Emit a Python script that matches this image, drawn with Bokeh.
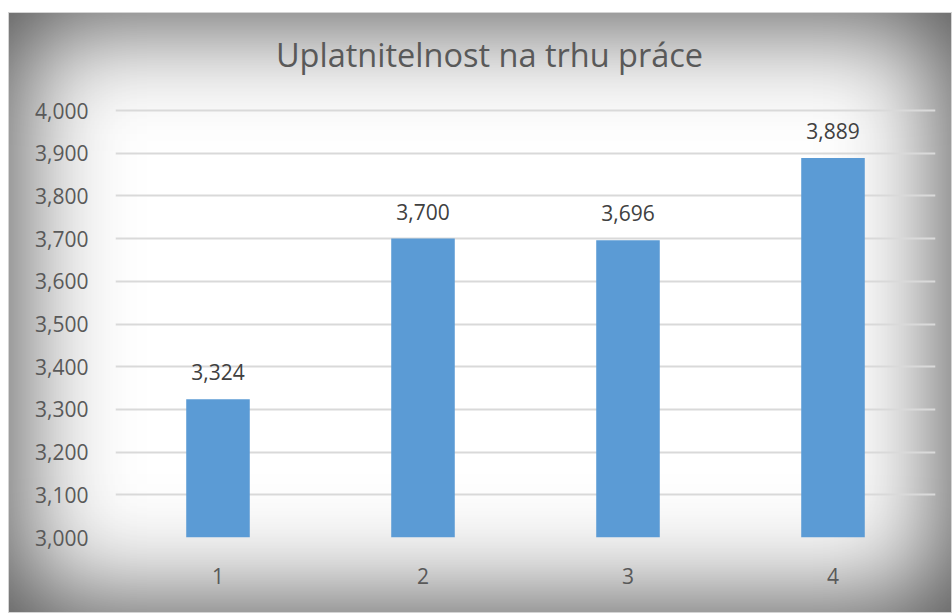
from bokeh.plotting import figure
from bokeh.models import ColumnDataSource, CustomJSTickFormatter, FixedTicker, Label
from bokeh.embed import file_html
from bokeh.resources import INLINE
from bokeh.core.properties import value

title_text = "Uplatnitelnost na trhu práce"
categories = ["1", "2", "3", "4"]
values = [3.324, 3.700, 3.696, 3.889]
y_ticks = [3.0, 3.1, 3.2, 3.3, 3.4, 3.5, 3.6, 3.7, 3.8, 3.9, 4.0]

labels = [f"{v:.3f}".replace(".", ",") for v in values]
src = ColumnDataSource(dict(cat=categories, val=values, lab=labels))

FONT = "Open Sans"
PX_PER_UNIT = 427.0        # 3,000 -> 4,000 spans 427 px
FRAME_TOP_PAD = 96         # frame extends above 4,000 to hold the title
Y_END = 4.0 + FRAME_TOP_PAD / PX_PER_UNIT

p = figure(width=944, height=601, x_range=categories, y_range=(3.0, Y_END),
           output_backend="svg", toolbar_location=None,
           min_border_left=107, min_border_right=17, min_border_top=2, min_border_bottom=76,
           margin=(12, 0, 0, 8))
p.border_fill_color = None
p.background_fill_color = None
p.outline_line_color = None
p.styles = {
    "background-color": "white",
    "box-shadow": "inset 0 0 0 1px #d4d4d4, inset 0 0 110px 8px rgba(0,0,0,0.72)",
}

p.vbar(x="cat", top="val", bottom=3.0, width=0.31, source=src,
       fill_color="#5b9bd5", line_color=None)

p.text(x="cat", y="val", text="lab", source=src, y_offset=-27,
       text_align="center", text_baseline="alphabetic",
       text_font=value(FONT), text_font_size="21px", text_color="#404040")

p.xgrid.grid_line_color = None
p.ygrid.grid_line_color = "#d9d9d9"
p.ygrid.grid_line_width = 2
p.ygrid.ticker = FixedTicker(ticks=y_ticks)
p.yaxis.ticker = FixedTicker(ticks=y_ticks)
p.yaxis.formatter = CustomJSTickFormatter(code="return tick.toFixed(3).replace('.', ',');")

for ax in (p.xaxis, p.yaxis):
    ax.axis_line_color = None
    ax.major_tick_line_color = None
    ax.minor_tick_line_color = None
    ax.major_label_text_font = FONT
    ax.major_label_text_font_size = "21px"
    ax.major_label_text_color = "#595959"
p.yaxis.major_label_standoff = 21
p.xaxis.major_label_standoff = 24

# title: baseline ~43 px above the 4,000 gridline
p.add_layout(Label(x=374, y=4.0 + 56.5 / PX_PER_UNIT, x_units="screen", y_units="data",
                   text=title_text, text_align="center", text_baseline="alphabetic",
                   text_font=FONT, text_font_size="32.5px", text_color="#595959"))

open("out.html", "w").write(file_html(p, INLINE))
